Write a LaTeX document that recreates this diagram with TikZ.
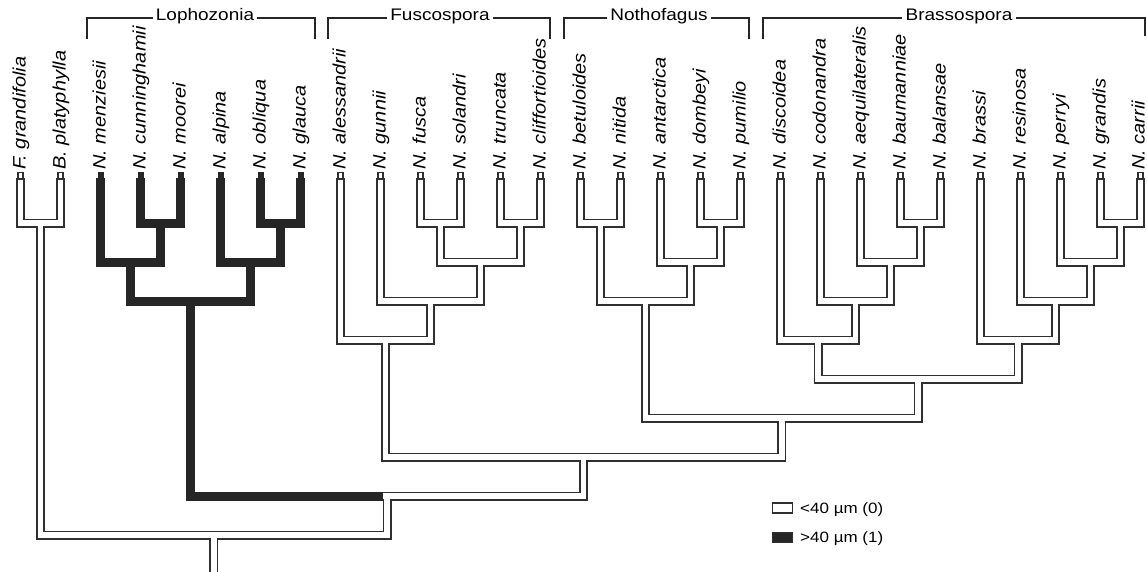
\documentclass[tikz,border=0pt]{standalone}
\usepackage{fontspec}
\setmainfont{Liberation Sans}
\usepackage{graphicx}
\definecolor{ink}{HTML}{262626}
\definecolor{tubeline}{HTML}{303030}
\begin{document}
\begin{tikzpicture}[x=1pt,y=-1pt,
  outl/.style={line width=9pt, draw=tubeline, line join=miter, line cap=butt},
  innr/.style={line width=5.6pt, draw=white, line join=miter, line cap=butt, shorten <=1.6pt},
  blk/.style={line width=9pt, draw=ink, line join=miter, line cap=butt},
  lab/.style={rotate=90, anchor=base west, inner sep=0pt, font=\fontsize{20}{22}\selectfont\itshape},
  hdr/.style={font=\fontsize{19}{21}\selectfont, inner sep=3pt, anchor=mid},
  brk/.style={line width=2.2pt, draw=ink},
  legbox/.style={draw=tubeline, line width=1.4pt, minimum width=20pt, minimum height=10pt, inner sep=0pt},
  legtext/.style={font=\fontsize{17}{19}\selectfont, anchor=base west, inner sep=0pt},
]
\useasboundingbox (0,0) rectangle (1147,572);

% ---------- leaves ----------
\foreach \i/\nm in {0/F. grandifolia,1/B. platyphylla,2/N. menziesii,3/N. cunninghamii,
  4/N. moorei,5/N. alpina,6/N. obliqua,7/N. glauca,8/N. alessandrii,9/N. gunnii,
  10/N. fusca,11/N. solandri,12/N. truncata,13/N. cliffortioides,14/N. betuloides,
  15/N. nitida,16/N. antarctica,17/N. dombeyi,18/N. pumilio,19/N. discoidea,
  20/N. codonandra,21/N. aequilateralis,22/N. baumanniae,23/N. balansae,24/N. brassi,
  25/N. resinosa,26/N. perryi,27/N. grandis}{
  \coordinate (l\i) at ({20.5+40*\i},178);
  \node[lab] (t\i) at ({25.5+40*\i},170) {\scalebox{1}[0.9]{\nm}};
}
\coordinate (l28) at (1140.5,178);
\node[lab] (t28) at (1144.5,170) {\scalebox{1}[0.9]{N. carrii}};

% ---------- internal nodes ----------
\coordinate (fb)  at (40.5,223);
\coordinate (cm)  at (160.5,223);
\coordinate (lz2) at (130.5,262);
\coordinate (og)  at (280.5,223);
\coordinate (lz3) at (250.5,262);
\coordinate (lz)  at (190.5,301);
\coordinate (fs)  at (440.5,223);
\coordinate (tc)  at (520.5,223);
\coordinate (f2)  at (480.5,262);
\coordinate (f3)  at (430.5,301);
\coordinate (fu)  at (385.5,340);
\coordinate (bn)  at (600.5,223);
\coordinate (dp)  at (720.5,223);
\coordinate (n2)  at (690.5,262);
\coordinate (no)  at (645.5,301);
\coordinate (bb)  at (920.5,223);
\coordinate (b2)  at (890.5,262);
\coordinate (b3)  at (855.5,301);
\coordinate (b4)  at (818,340);
\coordinate (gc)  at (1120.5,223);
\coordinate (b5)  at (1090.5,262);
\coordinate (b6)  at (1055.5,301);
\coordinate (b7)  at (1018,340);
\coordinate (br)  at (918,379);
\coordinate (nb)  at (781.75,418);
\coordinate (fnb) at (583.6,457);
\coordinate (nt)  at (387,496);
\coordinate (ntl) at (382.5,496);
\coordinate (root) at (213.75,535);
\coordinate (rootend) at (213.75,573);

\newcommand\whiteedges[1]{%
  \foreach \c/\p in {l0/fb,l1/fb,fb/root,nt/root,fnb/ntl,fu/fnb,nb/fnb,
    l8/fu,f3/fu,l9/f3,f2/f3,fs/f2,tc/f2,l10/fs,l11/fs,l12/tc,l13/tc,
    no/nb,br/nb,bn/no,n2/no,l14/bn,l15/bn,l16/n2,dp/n2,l17/dp,l18/dp,
    b4/br,b7/br,l19/b4,b3/b4,l20/b3,b2/b3,l21/b2,bb/b2,l22/bb,l23/bb,
    l24/b7,b6/b7,l25/b6,b5/b6,l26/b5,gc/b5,l27/gc,l28/gc}{
    \draw[#1] (\c) |- (\p);
  }
  \draw[#1] (root) -- (rootend);
}

% outlines of hollow branches
\whiteedges{outl}
% solid branches (Lophozonia)
\foreach \c/\p in {l2/lz2,cm/lz2,l3/cm,l4/cm,l5/lz3,og/lz3,l6/og,l7/og,lz2/lz,lz3/lz,lz/ntl}{
  \draw[blk] (\c) |- (\p);
}
% interiors of hollow branches
\whiteedges{innr}

% leaf tips
\foreach \i in {0,1,8,9,10,11,12,13,14,15,16,17,18,19,20,21,22,23,24,25,26,27,28}{
  \draw[tubeline, line width=1.3pt, fill=white] ({20.5+40*\i-2.6},172.8) rectangle ({20.5+40*\i+2.6},178.3);
}
\foreach \i in {2,...,7}{
  \fill[ink] ({20.5+40*\i-3},172.5) rectangle ({20.5+40*\i+3},178.5);
}

% ---------- clade brackets ----------
\node[hdr] (hLo) at (205,18) {\scalebox{1}[0.88]{Lophozonia}};
\node[hdr] (hFu) at (440,18) {\scalebox{1}[0.88]{Fuscospora}};
\node[hdr] (hNo) at (659,18) {\scalebox{1}[0.88]{Nothofagus}};
\node[hdr] (hBr) at (959,18) {\scalebox{1}[0.88]{Brassospora}};
\coordinate (loL) at (87,39);   \coordinate (loR) at (315,39);
\coordinate (fuL) at (328,39);  \coordinate (fuR) at (550,39);
\coordinate (noL) at (564,39);  \coordinate (noR) at (749,39);
\coordinate (brL) at (763,39);  \coordinate (brR) at (1145,36);
\draw[brk] (loL) |- (hLo.mid west);  \draw[brk] (hLo.mid east) -| (loR);
\draw[brk] (fuL) |- (hFu.mid west);  \draw[brk] (hFu.mid east) -| (fuR);
\draw[brk] (noL) |- (hNo.mid west);  \draw[brk] (hNo.mid east) -| (noR);
\draw[brk] (brL) |- (hBr.mid west);  \draw[brk] (hBr.mid east) -| (brR);

% ---------- legend ----------
\node[legbox, fill=white] (lw) at (782.5,508) {};
\node[legbox, fill=ink]   (lb) at (782.5,537.5) {};
\node[legtext] (lwt) at (800,513.5) {\scalebox{1}[0.88]{<40 µm (0)}};
\node[legtext] (lbt) at (800,542.5) {\scalebox{1}[0.88]{>40 µm (1)}};
\end{tikzpicture}
\end{document}
